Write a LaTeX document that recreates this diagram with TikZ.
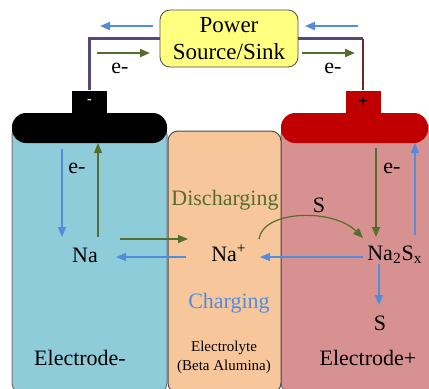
\documentclass[tikz,border=0pt]{standalone}
\usepackage{fontspec}
\setmainfont{Liberation Serif}
\usepackage{xcolor}
\usetikzlibrary{positioning,arrows.meta}

\definecolor{elneg}{RGB}{143,204,218}
\definecolor{elpos}{RGB}{216,145,145}
\definecolor{elyte}{RGB}{248,198,155}
\definecolor{capred}{RGB}{192,0,0}
\definecolor{psuyellow}{RGB}{255,255,128}
\definecolor{wirepurple}{RGB}{88,72,118}
\definecolor{wirered}{RGB}{110,40,40}
\definecolor{dischgreen}{RGB}{84,110,48}
\definecolor{chgblue}{RGB}{82,140,222}

\begin{document}
\begin{tikzpicture}[x=0.5pt,y=-0.5pt,
    lbl/.style={font=\fontsize{11}{13}\selectfont, inner sep=0pt},
    dis/.style={dischgreen, line width=0.6pt, -{Triangle[length=5pt,width=4pt]}},
    chg/.style={chgblue, line width=0.6pt, -{Triangle[length=5pt,width=4pt]}},
    panel/.style={draw=black!55, line width=0.5pt, rounded corners=5pt}]
\useasboundingbox (0,0) rectangle (429,388);
\clip (0,0) rectangle (429,388);

% Electrodes and electrolyte
\draw[panel, fill=elneg] (12,125) rectangle (167,393);
\draw[panel, fill=elpos] (281,125) rectangle (440,393);
\draw[panel, draw=black!70, fill=elyte] (168,131) rectangle (281,393);

% Caps and terminals
\fill[black, rounded corners=7pt] (12,113) rectangle (167,143);
\fill[capred, rounded corners=7pt] (281,113) rectangle (428,143);
\node[fill=black, text=white, minimum width=17.5pt, minimum height=11.5pt, inner sep=0pt,
      font=\fontsize{7}{7}\selectfont\bfseries] (neg) at (89.5,102) {-};
\node[fill=capred, minimum width=17.5pt, minimum height=11.5pt, inner sep=0pt,
      font=\fontsize{8}{8}\selectfont\bfseries] (pos) at (363,102) {+};

% Power source
\node[draw=black!70, fill=psuyellow, rounded corners=5pt, minimum width=69pt, minimum height=28.5pt,
      align=center, inner sep=0pt, font=\fontsize{11.5}{13.5}\selectfont] (psu) at (229,38.5)
      {Power\\Source/Sink};
\draw[wirepurple, line width=1.2pt] (neg.north) |- (psu.west);
\coordinate (corner) at (pos.north |- psu.east);
\draw[wirepurple, line width=1.2pt] (psu.east) -- (corner);
\draw[wirered, line width=1.2pt] (corner) -- (pos.north);

% Wire arrows
\coordinate (wl1) at (153,26); \coordinate (wl2) at (100,26);
\coordinate (wr1) at (358,26); \coordinate (wr2) at (305,26);
\coordinate (gl1) at (97,53);  \coordinate (gl2) at (150,53);
\coordinate (gr1) at (302,53); \coordinate (gr2) at (355,53);
\draw[chg, line width=1pt] (wl1) -- (wl2);
\draw[chg, line width=1pt] (wr1) -- (wr2);
\draw[dis, line width=1pt] (gl1) -- (gl2);
\draw[dis, line width=1pt] (gr1) -- (gr2);
\node[lbl] (ewl) at (120,68) {e-};
\node[lbl] (ewr) at (333,68) {e-};

% Species
\node[lbl] (na) at (85,255) {Na};
\node[lbl] (nap) at (229,253) {Na\textsuperscript{+}};
\node[lbl] (nas) at (395,255) {Na\textsubscript{2}S\textsubscript{x}};
\node[lbl] (sbot) at (380,323) {S};
\node[lbl] (stop) at (319,205) {S};
\node[lbl] (el) at (77,168) {e-};
\node[lbl] (er) at (392,168) {e-};

% Left electrode arrows
\coordinate (l1) at (62,149);  \coordinate (l2) at (62,237);
\coordinate (l3) at (98,237);  \coordinate (l4) at (98,143);
\coordinate (l5) at (120,239); \coordinate (l6) at (188,239);
\coordinate (l7) at (186,257); \coordinate (l8) at (116,257);
\draw[chg] (l1) -- (l2);
\draw[dis] (l3) -- (l4);
\draw[dis] (l5) -- (l6);
\draw[chg] (l7) -- (l8);

% Right electrode arrows
\coordinate (r1) at (259,239); \coordinate (r2) at (363,238);
\coordinate (r3) at (363,257); \coordinate (r4) at (260,257);
\coordinate (r5) at (376,148); \coordinate (r6) at (376,237);
\coordinate (r7) at (415,235); \coordinate (r8) at (415,143);
\coordinate (r9) at (379,264); \coordinate (r10) at (379,305);
\draw[dis] (r1) .. controls (263,210) and (333,208) .. (r2);
\draw[chg] (r3) -- (r4);
\draw[dis] (r5) -- (r6);
\draw[chg] (r7) -- (r8);
\draw[chg] (r9) -- (r10);

% Labels
\node[lbl, text=dischgreen] (dis) at (225,200) {Discharging};
\node[lbl, text=chgblue] (chg) at (229,303) {Charging};
\node[lbl] (eneg) at (80,358) {Electrode-};
\node[lbl] (epos) at (368,358) {Electrode+};
\node[font=\fontsize{7.5}{9.5}\selectfont, align=center, inner sep=0pt] (lyte) at (224,357)
      {Electrolyte\\(Beta Alumina)};
\end{tikzpicture}
\end{document}
